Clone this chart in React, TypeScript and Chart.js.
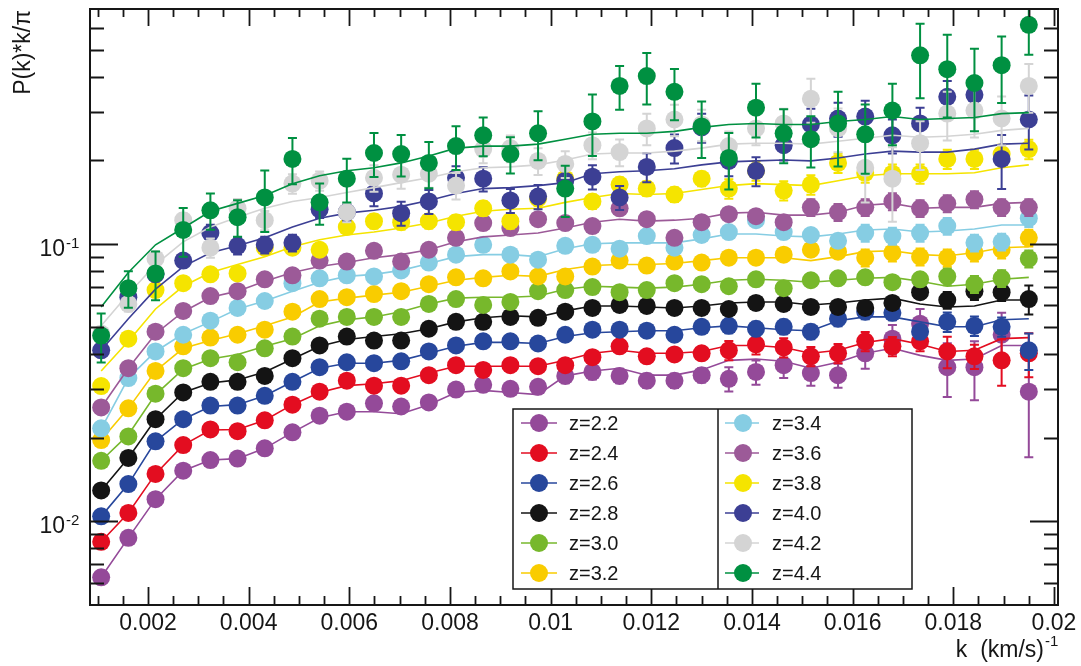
import React, { useEffect, useRef } from "react";
import { Chart, registerables } from "chart.js";

Chart.register(...registerables);

// wavenumber k  (km/s)^-1
const K = [0.00107, 0.00161, 0.00215, 0.0027, 0.00324, 0.00378, 0.00432, 0.00487, 0.00541, 0.00595, 0.00649, 0.00703, 0.00758, 0.00812, 0.00866, 0.0092, 0.00975, 0.01029, 0.01083, 0.01137, 0.01191, 0.01246, 0.013, 0.01354, 0.01408, 0.01463, 0.01517, 0.01571, 0.01625, 0.01679, 0.01734, 0.01788, 0.01842, 0.01896, 0.0195];

const Z_LABELS = ["z=2.2", "z=2.4", "z=2.6", "z=2.8", "z=3.0", "z=3.2", "z=3.4", "z=3.6", "z=3.8", "z=4.0", "z=4.2", "z=4.4"];
const COLORS = ["#944a99", "#e30d20", "#27479c", "#141414", "#77b82c", "#f9cc00", "#86cde3", "#9c5a98", "#f5e400", "#3c3f94", "#d4d4d4", "#009041"];

// measured P(k)*k/pi
const P22 = [0.00627, 0.0087, 0.012, 0.0152, 0.0166, 0.0168, 0.0183, 0.0209, 0.024, 0.0248, 0.0266, 0.0259, 0.0268, 0.0298, 0.031, 0.03, 0.0305, 0.0334, 0.0345, 0.0334, 0.0321, 0.0321, 0.0336, 0.0326, 0.0345, 0.0365, 0.0342, 0.0336, 0.0403, 0.0455, 0.0515, 0.0359, 0.0359, 0.047, 0.0293];
const P24 = [0.00842, 0.0107, 0.0148, 0.0188, 0.0214, 0.0211, 0.0231, 0.0263, 0.0293, 0.0321, 0.0308, 0.0308, 0.0336, 0.0365, 0.0351, 0.0365, 0.0362, 0.0365, 0.039, 0.0427, 0.0393, 0.0399, 0.0403, 0.0413, 0.0434, 0.0423, 0.0393, 0.0403, 0.0445, 0.0427, 0.0445, 0.0409, 0.0393, 0.038, 0.0403];
const P26 = [0.0104, 0.0136, 0.0194, 0.0233, 0.0261, 0.0261, 0.0283, 0.0318, 0.0359, 0.0374, 0.0371, 0.0377, 0.0409, 0.043, 0.0445, 0.0445, 0.0437, 0.047, 0.049, 0.049, 0.0486, 0.047, 0.0502, 0.0506, 0.0494, 0.0502, 0.0482, 0.0537, 0.0569, 0.0564, 0.0482, 0.0523, 0.0506, 0.0502, 0.0413];
const P28 = [0.0129, 0.0169, 0.0233, 0.0291, 0.0318, 0.0318, 0.0334, 0.0387, 0.043, 0.0463, 0.0448, 0.0448, 0.0494, 0.0523, 0.0523, 0.0545, 0.0541, 0.0569, 0.0587, 0.0602, 0.0597, 0.0587, 0.0587, 0.0582, 0.0612, 0.0607, 0.0592, 0.0592, 0.0587, 0.0612, 0.0669, 0.0627, 0.0675, 0.0669, 0.0632];
const P30 = [0.0165, 0.0202, 0.0288, 0.0356, 0.0387, 0.0374, 0.042, 0.0463, 0.0537, 0.0545, 0.0545, 0.0545, 0.0607, 0.0632, 0.0602, 0.0617, 0.0675, 0.0681, 0.0698, 0.0669, 0.0681, 0.0721, 0.0715, 0.0703, 0.0745, 0.0692, 0.0739, 0.0751, 0.0757, 0.0727, 0.0745, 0.0763, 0.0715, 0.0751, 0.0884];
const P32 = [0.0196, 0.0255, 0.0348, 0.0427, 0.0459, 0.047, 0.049, 0.0569, 0.0632, 0.0642, 0.0659, 0.0675, 0.0715, 0.0757, 0.0751, 0.0795, 0.0763, 0.0763, 0.0828, 0.087, 0.0835, 0.0863, 0.0856, 0.0891, 0.0891, 0.0914, 0.0952, 0.0937, 0.0891, 0.0929, 0.0899, 0.0891, 0.0929, 0.0952, 0.1051];
const P34 = [0.0216, 0.0328, 0.0409, 0.047, 0.0528, 0.0587, 0.0622, 0.0721, 0.0751, 0.077, 0.0763, 0.0802, 0.0856, 0.0914, 0.0992, 0.0914, 0.0877, 0.0984, 0.0992, 0.096, 0.1067, 0.0968, 0.1076, 0.1103, 0.1217, 0.1103, 0.1076, 0.1025, 0.1094, 0.1067, 0.1094, 0.1159, 0.1008, 0.1017, 0.1237];
const P36 = [0.0257, 0.0356, 0.0482, 0.0573, 0.0648, 0.0675, 0.0745, 0.077, 0.087, 0.0863, 0.0944, 0.0863, 0.0952, 0.1051, 0.1188, 0.114, 0.1227, 0.1188, 0.1159, 0.1343, 0.1227, 0.1051, 0.1197, 0.1279, 0.1258, 0.1197, 0.1354, 0.13, 0.1354, 0.1422, 0.1343, 0.1399, 0.1446, 0.1354, 0.1354];
const P38 = [0.0307, 0.0455, 0.0681, 0.0721, 0.0776, 0.0782, 0.0968, 0.0968, 0.0952, 0.115, 0.1207, 0.1197, 0.1207, 0.1197, 0.1343, 0.1207, 0.1458, 0.1717, 0.1422, 0.1635, 0.1582, 0.1506, 0.1717, 0.1582, 0.1834, 0.1556, 0.1635, 0.1958, 0.1804, 0.179, 0.179, 0.2023, 0.2023, 0.2108, 0.2196];
const P40 = [0.0413, 0.0642, 0.0776, 0.087, 0.1094, 0.0984, 0.0992, 0.1008, 0.1332, 0.13, 0.1519, 0.129, 0.1422, 0.1731, 0.1717, 0.1434, 0.1481, 0.1689, 0.1746, 0.147, 0.1894, 0.2214, 0.263, 0.1991, 0.1834, 0.2269, 0.2695, 0.2831, 0.2877, 0.2463, 0.2717, 0.339, 0.3446, 0.2023, 0.2808];
const P42 = [0.0474, 0.0607, 0.0884, 0.1217, 0.0968, 0.1343, 0.1217, 0.1649, 0.1689, 0.13, 0.1731, 0.1775, 0.179, 0.1622, 0.2196, 0.2214, 0.1991, 0.1942, 0.2269, 0.2142, 0.2608, 0.2808, 0.2695, 0.2251, 0.2608, 0.2717, 0.3335, 0.2608, 0.188, 0.1717, 0.2306, 0.2949, 0.3023, 0.2831, 0.371];
const P44 = [0.0467, 0.0692, 0.0782, 0.1122, 0.1321, 0.1248, 0.147, 0.2023, 0.1411, 0.1717, 0.2126, 0.2108, 0.1958, 0.2251, 0.2463, 0.2108, 0.2504, 0.1582, 0.2762, 0.371, 0.4027, 0.3532, 0.2651, 0.204, 0.3098, 0.2504, 0.2384, 0.2717, 0.2483, 0.3023, 0.4783, 0.4264, 0.3802, 0.4407, 0.6166];

// relative errors of the measurements
const E22 = [0.03, 0.03, 0.03, 0.03, 0.03, 0.03, 0.03, 0.03, 0.03, 0.03, 0.03, 0.03, 0.03, 0.03, 0.03, 0.03, 0.03, 0.06, 0.06, 0.06, 0.06, 0.06, 0.06, 0.1, 0.1, 0.1, 0.1, 0.1, 0.12, 0.12, 0.13, 0.22, 0.24, 0.2, 0.42];
const E24 = [0.03, 0.03, 0.03, 0.03, 0.03, 0.03, 0.03, 0.03, 0.03, 0.03, 0.03, 0.03, 0.03, 0.03, 0.03, 0.03, 0.03, 0.03, 0.05, 0.05, 0.05, 0.05, 0.05, 0.08, 0.08, 0.08, 0.08, 0.08, 0.08, 0.08, 0.08, 0.13, 0.1, 0.19, 0.18];
const E26 = [0.03, 0.03, 0.03, 0.03, 0.03, 0.03, 0.03, 0.03, 0.03, 0.03, 0.03, 0.03, 0.03, 0.03, 0.03, 0.03, 0.03, 0.03, 0.03, 0.03, 0.03, 0.03, 0.03, 0.06, 0.06, 0.06, 0.06, 0.06, 0.06, 0.06, 0.06, 0.08, 0.08, 0.08, 0.15];
const E28 = [0.03, 0.03, 0.03, 0.03, 0.03, 0.03, 0.03, 0.03, 0.03, 0.03, 0.03, 0.03, 0.03, 0.03, 0.03, 0.03, 0.03, 0.03, 0.03, 0.03, 0.03, 0.03, 0.03, 0.03, 0.03, 0.03, 0.05, 0.05, 0.05, 0.05, 0.05, 0.07, 0.07, 0.07, 0.12];
const E30 = [0.03, 0.03, 0.03, 0.03, 0.03, 0.03, 0.03, 0.03, 0.03, 0.03, 0.03, 0.03, 0.03, 0.03, 0.03, 0.03, 0.03, 0.03, 0.03, 0.03, 0.03, 0.03, 0.03, 0.03, 0.03, 0.03, 0.05, 0.05, 0.05, 0.05, 0.05, 0.07, 0.07, 0.07, 0.07];
const E32 = [0.03, 0.03, 0.03, 0.03, 0.03, 0.03, 0.03, 0.03, 0.03, 0.03, 0.03, 0.03, 0.03, 0.03, 0.03, 0.03, 0.03, 0.03, 0.03, 0.03, 0.03, 0.03, 0.03, 0.03, 0.03, 0.05, 0.05, 0.05, 0.07, 0.07, 0.07, 0.07, 0.07, 0.07, 0.07];
const E34 = [0.03, 0.03, 0.03, 0.03, 0.03, 0.03, 0.03, 0.03, 0.03, 0.03, 0.03, 0.03, 0.03, 0.03, 0.03, 0.03, 0.03, 0.03, 0.03, 0.03, 0.03, 0.05, 0.05, 0.05, 0.05, 0.05, 0.05, 0.05, 0.07, 0.07, 0.07, 0.07, 0.07, 0.07, 0.07];
const E36 = [0.03, 0.03, 0.03, 0.03, 0.03, 0.03, 0.03, 0.03, 0.03, 0.03, 0.03, 0.03, 0.03, 0.03, 0.03, 0.03, 0.03, 0.03, 0.03, 0.05, 0.05, 0.05, 0.05, 0.05, 0.05, 0.05, 0.07, 0.07, 0.07, 0.07, 0.07, 0.07, 0.07, 0.07, 0.07];
const E38 = [0.04, 0.04, 0.04, 0.04, 0.04, 0.04, 0.04, 0.04, 0.04, 0.04, 0.06, 0.06, 0.06, 0.06, 0.06, 0.06, 0.06, 0.06, 0.06, 0.06, 0.06, 0.06, 0.06, 0.08, 0.08, 0.08, 0.08, 0.08, 0.08, 0.08, 0.08, 0.08, 0.08, 0.08, 0.08];
const E40 = [0.05, 0.05, 0.05, 0.05, 0.07, 0.07, 0.07, 0.07, 0.07, 0.07, 0.1, 0.1, 0.1, 0.1, 0.1, 0.1, 0.1, 0.1, 0.1, 0.1, 0.12, 0.12, 0.12, 0.12, 0.12, 0.12, 0.14, 0.14, 0.14, 0.14, 0.14, 0.14, 0.14, 0.22, 0.22];
const E42 = [0.06, 0.06, 0.06, 0.06, 0.08, 0.08, 0.08, 0.08, 0.08, 0.08, 0.11, 0.11, 0.11, 0.11, 0.11, 0.11, 0.11, 0.11, 0.11, 0.11, 0.13, 0.13, 0.13, 0.13, 0.13, 0.13, 0.18, 0.18, 0.25, 0.3, 0.2, 0.2, 0.2, 0.2, 0.2];
const E44 = [0.2, 0.15, 0.2, 0.2, 0.15, 0.15, 0.25, 0.19, 0.17, 0.18, 0.18, 0.17, 0.19, 0.18, 0.16, 0.15, 0.2, 0.21, 0.25, 0.18, 0.21, 0.21, 0.23, 0.23, 0.22, 0.22, 0.21, 0.3, 0.28, 0.25, 0.3, 0.33, 0.33, 0.27, 0.22];

// model curves
const M22 = [0.00627, 0.0087, 0.012, 0.0152, 0.0166, 0.0168, 0.0183, 0.0209, 0.0236, 0.0248, 0.0248, 0.0244, 0.0263, 0.0291, 0.0296, 0.0291, 0.0286, 0.0334, 0.0348, 0.0356, 0.0336, 0.0336, 0.0351, 0.038, 0.0384, 0.0377, 0.0356, 0.0374, 0.0403, 0.042, 0.0396, 0.038, 0.0384, 0.043, 0.043];
const M24 = [0.00842, 0.0107, 0.0148, 0.0188, 0.0213, 0.0214, 0.0231, 0.0263, 0.0291, 0.0308, 0.0313, 0.0321, 0.0342, 0.0362, 0.0362, 0.0362, 0.0362, 0.038, 0.0403, 0.0413, 0.0403, 0.0403, 0.0409, 0.043, 0.043, 0.0423, 0.0403, 0.0413, 0.0441, 0.0455, 0.0434, 0.0409, 0.0413, 0.0455, 0.0459];
const M26 = [0.0104, 0.0136, 0.0194, 0.0233, 0.0259, 0.0263, 0.0283, 0.0318, 0.0356, 0.0371, 0.0371, 0.038, 0.0403, 0.0427, 0.0441, 0.0441, 0.0437, 0.0463, 0.0478, 0.0482, 0.0486, 0.0486, 0.0498, 0.0506, 0.0498, 0.049, 0.0486, 0.0528, 0.0545, 0.0545, 0.0523, 0.0502, 0.0502, 0.0532, 0.0537];
const M28 = [0.0129, 0.0169, 0.0233, 0.0291, 0.0315, 0.0323, 0.0345, 0.0384, 0.0427, 0.0452, 0.0463, 0.0474, 0.0494, 0.0523, 0.0541, 0.055, 0.0545, 0.0573, 0.0597, 0.0597, 0.0592, 0.0587, 0.0597, 0.0612, 0.0617, 0.0617, 0.0602, 0.0612, 0.0627, 0.0637, 0.0607, 0.0592, 0.0597, 0.0627, 0.0627];
const M30 = [0.0165, 0.0205, 0.0286, 0.0353, 0.0384, 0.0399, 0.0427, 0.0455, 0.0506, 0.0532, 0.0545, 0.0569, 0.0607, 0.0637, 0.0642, 0.0642, 0.0648, 0.0686, 0.0703, 0.0698, 0.0692, 0.0698, 0.0715, 0.0739, 0.0745, 0.0739, 0.0727, 0.0739, 0.0751, 0.0757, 0.0733, 0.0703, 0.0715, 0.0745, 0.0757];
const M32 = [0.0196, 0.0255, 0.0348, 0.042, 0.0448, 0.0474, 0.0506, 0.0545, 0.0617, 0.0637, 0.0653, 0.0669, 0.0703, 0.0739, 0.0757, 0.077, 0.0763, 0.0808, 0.0835, 0.0842, 0.0842, 0.0849, 0.087, 0.0891, 0.0891, 0.0891, 0.087, 0.0899, 0.0937, 0.0944, 0.0914, 0.0906, 0.0929, 0.0968, 0.0976];
const M34 = [0.0215, 0.0328, 0.0409, 0.0474, 0.0523, 0.0582, 0.0622, 0.0675, 0.0727, 0.0763, 0.0776, 0.0802, 0.0849, 0.0899, 0.0914, 0.0914, 0.0899, 0.096, 0.1, 0.1008, 0.1008, 0.1008, 0.1042, 0.1085, 0.1085, 0.1067, 0.1059, 0.1085, 0.1122, 0.1131, 0.1103, 0.1112, 0.1131, 0.1169, 0.1169];
const M36 = [0.0257, 0.0356, 0.0474, 0.0569, 0.0642, 0.0675, 0.0733, 0.0788, 0.0828, 0.0856, 0.0891, 0.0914, 0.0952, 0.1017, 0.1059, 0.1076, 0.1094, 0.114, 0.1197, 0.1227, 0.1207, 0.1217, 0.1237, 0.129, 0.13, 0.1269, 0.1269, 0.13, 0.1377, 0.1399, 0.1343, 0.1354, 0.1354, 0.1399, 0.1411];
const M38 = [0.0348, 0.0445, 0.0582, 0.0703, 0.0788, 0.0842, 0.0899, 0.0976, 0.1034, 0.1076, 0.1103, 0.114, 0.1188, 0.1258, 0.131, 0.1332, 0.1343, 0.1411, 0.147, 0.1519, 0.1506, 0.1519, 0.1569, 0.1622, 0.1649, 0.1635, 0.1622, 0.1689, 0.1761, 0.179, 0.179, 0.179, 0.1804, 0.188, 0.1926];
const M40 = [0.0413, 0.0537, 0.0686, 0.0828, 0.0929, 0.0984, 0.1051, 0.115, 0.1237, 0.129, 0.1321, 0.1365, 0.1434, 0.1519, 0.1582, 0.1595, 0.1622, 0.1662, 0.179, 0.1819, 0.1834, 0.1865, 0.1926, 0.1975, 0.1991, 0.2007, 0.1991, 0.204, 0.2108, 0.216, 0.2142, 0.2142, 0.2196, 0.2288, 0.2306];
const M42 = [0.0506, 0.0659, 0.0842, 0.1017, 0.115, 0.1248, 0.1343, 0.1422, 0.147, 0.1531, 0.1595, 0.1662, 0.1731, 0.1819, 0.188, 0.1895, 0.1926, 0.2007, 0.2108, 0.2126, 0.2126, 0.216, 0.2214, 0.2288, 0.2306, 0.2306, 0.2288, 0.2345, 0.2403, 0.2463, 0.2423, 0.2443, 0.2483, 0.2566, 0.2608];
const M44 = [0.0592, 0.0788, 0.0992, 0.114, 0.131, 0.1399, 0.1494, 0.1648, 0.1761, 0.1834, 0.188, 0.1958, 0.2074, 0.2214, 0.2251, 0.2251, 0.2288, 0.2384, 0.2483, 0.2504, 0.2504, 0.2545, 0.263, 0.2695, 0.2717, 0.2695, 0.2695, 0.2762, 0.2808, 0.2877, 0.2808, 0.2831, 0.2854, 0.2949, 0.2973];

// axes
const X_MIN = 0.000848;
const X_MAX = 0.02008;
const Y_MIN = 0.004982;
const Y_MAX = 0.7029;
const X_MAJOR = [0.002, 0.004, 0.006, 0.008, 0.01, 0.012, 0.014, 0.016, 0.018, 0.02];
const X_LABELS = ["0.002", "0.004", "0.006", "0.008", "0.01", "0.012", "0.014", "0.016", "0.018", "0.02"];
const X_MINOR_STEP = 0.0005;
const Y_MAJOR = [0.01, 0.1];
const Y_EXPONENTS = ["-2", "-1"];
const Y_MINOR = [0.005, 0.006, 0.007, 0.008, 0.009, 0.02, 0.03, 0.04, 0.05, 0.06, 0.07, 0.08, 0.09, 0.2, 0.3, 0.4, 0.5, 0.6, 0.7];
const Y_TITLE = "P(k)*k/\u03c0";
const X_TITLE = "k  (km/s)";
const X_TITLE_EXP = "-1";

const FONT = "'Liberation Sans', Arial, Helvetica, sans-serif";
const INK = "#161616";

const DATA = [P22, P24, P26, P28, P30, P32, P34, P36, P38, P40, P42, P44];
const MODELS = [M22, M24, M26, M28, M30, M32, M34, M36, M38, M40, M42, M44];
const ERRS = [E22, E24, E26, E28, E30, E32, E34, E36, E38, E40, E42, E44];

const errorBarPlugin = {
  id: "errbars",
  beforeDatasetDraw(chart: any, args: any) {
    const ds = chart.data.datasets[args.index];
    if (!ds.errRel) return;
    const { ctx, chartArea: a, scales } = chart;
    ctx.save();
    ctx.beginPath();
    ctx.rect(a.left, a.top, a.right - a.left, a.bottom - a.top);
    ctx.clip();
    ctx.strokeStyle = ds.pointBackgroundColor;
    ctx.lineWidth = 2;
    ds.data.forEach((p: any, j: number) => {
      const e = p.y * ds.errRel[j];
      const x = scales.x.getPixelForValue(p.x);
      const yt = scales.y.getPixelForValue(p.y + e);
      const yb = scales.y.getPixelForValue(p.y - e);
      ctx.beginPath();
      ctx.moveTo(x, yt);
      ctx.lineTo(x, yb);
      ctx.moveTo(x - 4.5, yt);
      ctx.lineTo(x + 4.5, yt);
      ctx.moveTo(x - 4.5, yb);
      ctx.lineTo(x + 4.5, yb);
      ctx.stroke();
    });
    ctx.restore();
  },
};

const decorPlugin = {
  id: "decor",
  afterDraw(chart: any) {
    const { ctx, chartArea: a, scales } = chart;
    const xs = scales.x;
    const ys = scales.y;
    ctx.save();
    ctx.strokeStyle = INK;
    ctx.fillStyle = INK;

    // ticks
    ctx.lineWidth = 1.8;
    ctx.beginPath();
    const nMinor = Math.round((X_MAX - 0.001) / X_MINOR_STEP);
    for (let i = 0; i <= nMinor; i++) {
      const v = 0.001 + i * X_MINOR_STEP;
      if (v > X_MAX) break;
      const isMajor = X_MAJOR.some((m) => Math.abs(m - v) < 1e-9);
      const x = Math.round(xs.getPixelForValue(v)) + 0.5;
      const lb = isMajor ? 18 : 9;
      const lt = isMajor ? 17 : 8;
      ctx.moveTo(x, a.bottom);
      ctx.lineTo(x, a.bottom - lb);
      ctx.moveTo(x, a.top);
      ctx.lineTo(x, a.top + lt);
    }
    const yTicks = [...Y_MAJOR.map((v) => [v, 28]), ...Y_MINOR.map((v) => [v, 14])];
    yTicks.forEach(([v, len]) => {
      const y = Math.round(ys.getPixelForValue(v)) + 0.5;
      if (y < a.top + 2 || y > a.bottom - 1) return;
      ctx.moveTo(a.left, y);
      ctx.lineTo(a.left + len, y);
      ctx.moveTo(a.right, y);
      ctx.lineTo(a.right - len, y);
    });
    ctx.stroke();

    // frame
    ctx.lineWidth = 2;
    ctx.strokeRect(a.left, a.top, a.right - a.left, a.bottom - a.top);

    // x tick labels
    ctx.font = `23px ${FONT}`;
    ctx.textAlign = "center";
    ctx.textBaseline = "alphabetic";
    X_MAJOR.forEach((v, i) => {
      ctx.fillText(X_LABELS[i], xs.getPixelForValue(v), 630);
    });

    // y tick labels 10^n
    Y_MAJOR.forEach((v, i) => {
      const y = ys.getPixelForValue(v);
      ctx.font = `23px ${FONT}`;
      ctx.textAlign = "right";
      ctx.fillText("10", 65, y + 12);
      ctx.font = `15px ${FONT}`;
      ctx.textAlign = "left";
      ctx.fillText(Y_EXPONENTS[i], 66, y + 4);
    });

    // axis titles
    ctx.font = `23px ${FONT}`;
    ctx.textAlign = "right";
    ctx.fillText(X_TITLE, 1044, 657);
    ctx.font = `15px ${FONT}`;
    ctx.textAlign = "left";
    ctx.fillText(X_TITLE_EXP, 1045, 646);

    ctx.save();
    ctx.translate(30, 10);
    ctx.rotate(-Math.PI / 2);
    ctx.font = `23px ${FONT}`;
    ctx.textAlign = "right";
    ctx.fillText(Y_TITLE, 0, 0);
    ctx.restore();

    // legend
    const L = { x0: 513, y0: 409, x1: 912, y1: 589, div: 718 };
    ctx.fillStyle = "#ffffff";
    ctx.fillRect(L.x0, L.y0, L.x1 - L.x0, L.y1 - L.y0);
    ctx.strokeStyle = INK;
    ctx.lineWidth = 1.5;
    ctx.strokeRect(L.x0, L.y0, L.x1 - L.x0, L.y1 - L.y0);
    ctx.beginPath();
    ctx.moveTo(L.div, L.y0);
    ctx.lineTo(L.div, L.y1);
    ctx.stroke();
    ctx.font = `20px ${FONT}`;
    ctx.textAlign = "left";
    ctx.textBaseline = "middle";
    Z_LABELS.forEach((lab, i) => {
      const col = i < 6 ? 0 : 1;
      const row = i % 6;
      const cy = 423 + row * 30;
      const lx0 = col === 0 ? 521 : 725;
      const lx1 = col === 0 ? 557 : 759;
      const cx = col === 0 ? 539 : 743;
      const tx = col === 0 ? 569 : 772;
      ctx.strokeStyle = COLORS[i];
      ctx.lineWidth = 1.6;
      ctx.beginPath();
      ctx.moveTo(lx0, cy);
      ctx.lineTo(lx1, cy);
      ctx.stroke();
      ctx.fillStyle = COLORS[i];
      ctx.beginPath();
      ctx.arc(cx, cy, 9, 0, Math.PI * 2);
      ctx.fill();
      ctx.fillStyle = INK;
      ctx.fillText(lab, tx, cy + 1);
    });
    ctx.restore();
  },
};

export default function App() {
  const ref = useRef<HTMLCanvasElement>(null);

  useEffect(() => {
    const canvas = ref.current;
    if (!canvas) return;
    const datasets: any[] = [];
    DATA.forEach((vals, s) => {
      datasets.push({
        type: "line",
        label: Z_LABELS[s] + " model",
        data: K.map((k, j) => ({ x: k, y: MODELS[s][j] })),
        borderColor: COLORS[s],
        borderWidth: 1.6,
        pointRadius: 0,
        tension: 0,
        fill: false,
        order: 1000 - 2 * s,
      });
      datasets.push({
        type: "scatter",
        label: Z_LABELS[s],
        data: K.map((k, j) => ({ x: k, y: vals[j] })),
        pointBackgroundColor: COLORS[s],
        backgroundColor: COLORS[s],
        pointBorderWidth: 0,
        borderWidth: 0,
        pointRadius: 9,
        pointHoverRadius: 9,
        pointStyle: "circle",
        showLine: false,
        errRel: ERRS[s],
        order: 999 - 2 * s,
      });
    });

    const chart = new Chart(canvas, {
      type: "scatter",
      data: { datasets },
      options: {
        animation: false,
        responsive: false,
        devicePixelRatio: 1,
        events: [],
        layout: { padding: { left: 90, right: 23, top: 1, bottom: 61 } },
        scales: {
          x: { type: "linear", min: X_MIN, max: X_MAX, display: false },
          y: { type: "logarithmic", min: Y_MIN, max: Y_MAX, display: false },
        },
        plugins: {
          legend: { display: false },
          tooltip: { enabled: false },
        },
      } as any,
      plugins: [errorBarPlugin, decorPlugin],
    });
    return () => chart.destroy();
  }, []);

  return (
    <div style={{ position: "fixed", left: 0, top: 0, width: 1081, height: 666, background: "#ffffff" }}>
      <canvas ref={ref} width={1081} height={666} style={{ display: "block" }} />
    </div>
  );
}
